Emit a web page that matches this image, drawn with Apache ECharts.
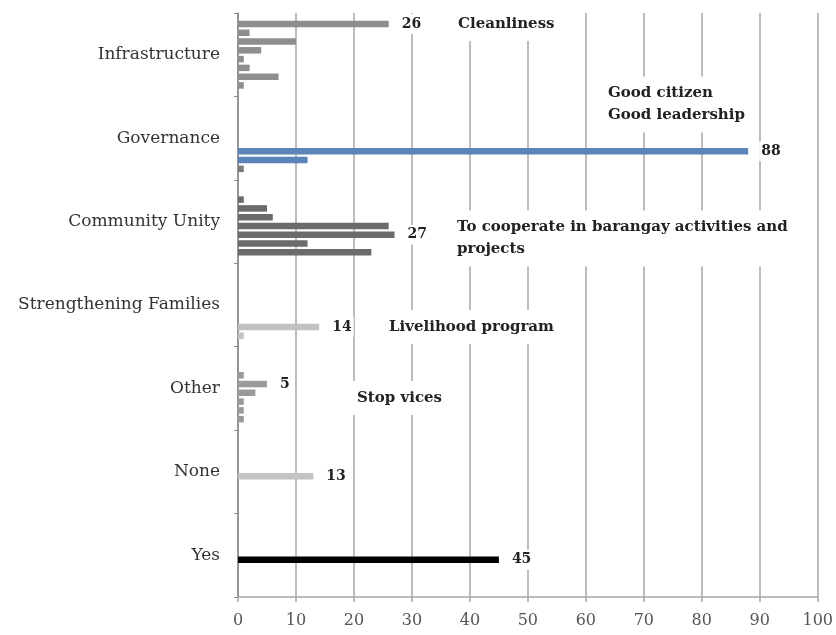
<!DOCTYPE html>
<html>
<head>
<meta charset="utf-8">
<script src="https://cdn.jsdelivr.net/npm/echarts/dist/echarts.min.js"></script>
<style>
html,body{margin:0;padding:0;background:#fff;}
#chart{width:836px;height:635px;}
</style>
</head>
<body>
<div id="chart"></div>
<script>
// Categories, listed top to bottom
const categories = ["Infrastructure", "Governance", "Community Unity", "Strengthening Families", "Other", "None", "Yes"];
// Bar values per category, slot 0 = topmost bar within the group
const infrastructure        = [26, 2, 10, 4, 1, 2, 7, 1];
const governance            = [null, null, null, null, null, 88, 12, 1];
const communityUnity        = [null, 1, 5, 6, 26, 27, 12, 23];
const strengtheningFamilies = [null, null, null, null, null, null, 14, 1];
const other                 = [null, null, 1, 5, 3, 1, 1, 1];
const none                  = [null, null, null, null, 13, null, null, null];
const yes                   = [null, null, null, null, 45, null, null, null];
const groups = [infrastructure, governance, communityUnity, strengtheningFamilies, other, none, yes];
// Value labels: [categoryIndex, slot]
const valueLabels = [[0, 0], [1, 5], [2, 5], [3, 6], [4, 3], [5, 4], [6, 4]];
// Axis ticks
const xTicks = [0, 10, 20, 30, 40, 50, 60, 70, 80, 90, 100];
// Text notes
const notes = [
  {text: "Cleanliness", x: 458, y: 24},
  {text: "Good citizen\nGood leadership", x: 608, y: 104.5},
  {text: "To cooperate in barangay activities and\nprojects", x: 457, y: 238.5},
  {text: "Livelihood program", x: 389, y: 327},
  {text: "Stop vices", x: 357, y: 398}
];

const catColors = ["#8e8e8e", "#5b84b8", "#6b6b6b", "#c2c2c2", "#9a9a9a", "#c4c4c4", "#000000"];
const slotCount = 8;
const serif = "'DejaVu Serif', serif";
const pad = 6;

const series = [];
for (let s = 0; s < slotCount; s++) {
  const data = groups.map((g, c) => {
    const v = g[s];
    if (v === null) return '-';
    let col = catColors[c];
    if (c === 1 && s === 7) col = "#7a7a7a";
    const item = {value: v, itemStyle: {color: col}};
    if (valueLabels.some(l => l[0] === c && l[1] === s)) {
      item.label = {
        show: true, position: 'right', distance: 11,
        fontFamily: serif, fontWeight: 'bold', fontSize: 14, color: '#222',
        backgroundColor: '#fff', padding: [3, 2]
      };
    }
    return item;
  });
  series.push({
    type: 'bar',
    barWidth: 6.5,
    barGap: '35%',
    data: data,
    animation: false,
    z: 3
  });
}

const chart = echarts.init(document.getElementById('chart'), null, {renderer: 'canvas'});
chart.setOption({
  backgroundColor: '#fff',
  animation: false,
  grid: {left: 238, right: 18, top: 13, bottom: 38, containLabel: false},
  xAxis: {
    type: 'value', min: xTicks[0], max: xTicks[xTicks.length - 1], interval: 10,
    axisLine: {show: true, lineStyle: {color: '#a6a6a6', width: 1.5}},
    axisTick: {show: true, length: 5, lineStyle: {color: '#a6a6a6', width: 1.5}},
    splitLine: {show: true, lineStyle: {color: '#a6a6a6', width: 1.5}},
    axisLabel: {margin: 16, fontFamily: serif, fontSize: 16, color: '#555'}
  },
  yAxis: {
    type: 'category', data: categories, inverse: true,
    axisLine: {show: true, lineStyle: {color: '#8a8a8a', width: 1.5}},
    axisTick: {show: true, length: 4, lineStyle: {color: '#8a8a8a'}},
    axisLabel: {margin: 18, fontFamily: serif, fontSize: 17, color: '#333'}
  },
  series: series,
  graphic: notes.map(n => ({
    type: 'text', x: n.x - pad, y: n.y, z: 10,
    style: {
      text: n.text, font: "bold 15px 'DejaVu Serif', serif", fill: '#222',
      verticalAlign: 'middle', align: 'left', lineHeight: 22,
      backgroundColor: '#fff', padding: [pad, pad]
    }
  }))
});
</script>
</body>
</html>
